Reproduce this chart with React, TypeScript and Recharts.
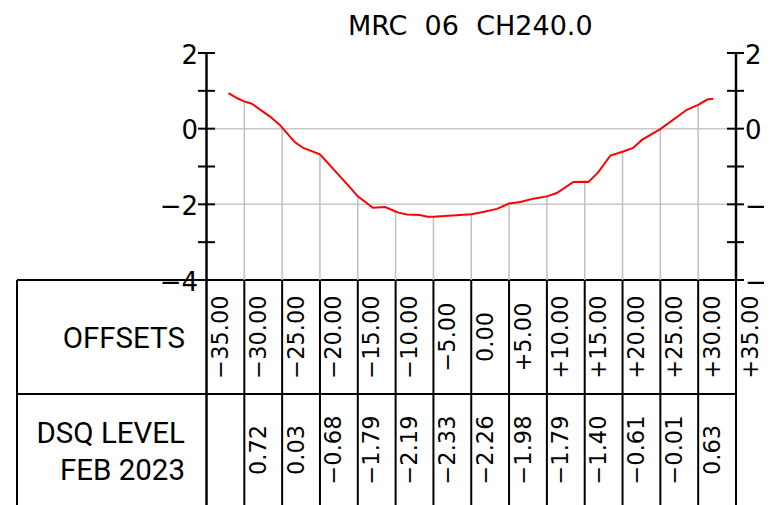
import React from 'react';
import { LineChart, Line, XAxis, YAxis, ReferenceLine, Customized } from 'recharts';

// Surveyed ground profile (offset in m, level in m)
const profileOffsets = [-32.1, -30.8, -30, -29.0, -26.6, -25.3, -25, -23.3, -22.2, -20, -16.0, -15, -13.0, -11.4, -10, -9.6, -8.5, -6.8, -5.8, -5, 0, 1.4, 3.4, 5, 6.5, 8.2, 10, 11.3, 13.5, 15, 15.5, 16.8, 18.4, 20, 21.4, 22.6, 25, 28.5, 30, 31.2, 32.0];
const profileLevels = [0.94, 0.79, 0.72, 0.66, 0.32, 0.10, 0.03, -0.36, -0.51, -0.68, -1.56, -1.79, -2.09, -2.07, -2.19, -2.22, -2.27, -2.28, -2.33, -2.33, -2.26, -2.21, -2.12, -1.98, -1.94, -1.85, -1.79, -1.70, -1.41, -1.40, -1.41, -1.15, -0.71, -0.61, -0.51, -0.29, -0.01, 0.50, 0.63, 0.77, 0.79];

// Table offsets and levels
const tableOffsets = [-35, -30, -25, -20, -15, -10, -5, 0, 5, 10, 15, 20, 25, 30, 35];
const offsetLabels = ['−35.00', '−30.00', '−25.00', '−20.00', '−15.00', '−10.00', '−5.00', '0.00', '+5.00', '+10.00', '+15.00', '+20.00', '+25.00', '+30.00', '+35.00'];
const dsqLevels: (number | null)[] = [null, 0.72, 0.03, -0.68, -1.79, -2.19, -2.33, -2.26, -1.98, -1.79, -1.40, -0.61, -0.01, 0.63, null];
const dsqLabels = ['', '0.72', '0.03', '−0.68', '−1.79', '−2.19', '−2.33', '−2.26', '−1.98', '−1.79', '−1.40', '−0.61', '−0.01', '0.63', ''];

const yTicks = [-4, -3, -2, -1, 0, 1, 2];
const yMajorLabels: Record<number, string> = { 2: '2', 0: '0', [-2]: '−2', [-4]: '−4' };

const title = 'MRC  06  CH240.0';
const rowLabel1 = 'OFFSETS';
const rowLabel2a = 'DSQ LEVEL';
const rowLabel2b = 'FEB 2023';

const profileData = profileOffsets.map((o, i) => ({ offset: o, level: profileLevels[i] }));

const W = 764;
const H = 497;
const PLOT_LEFT = 198.5;
const PLOT_RIGHT = 728;
const PLOT_TOP = 45;
const PLOT_BOTTOM = 272;
const TABLE_LEFT = 9;
const ROW_DIV = 386;

const CAD = 'DejaVu Sans';
const LABEL_FONT = 'Roboto';

const YTick = (props: any) => {
  const { x, y, payload, side } = props;
  const v = payload.value;
  const lbl = yMajorLabels[v];
  const left = side === 'left';
  return (
    <g>
      <line x1={left ? x - 8.5 : x - 9} x2={left ? x + 8.5 : x + 8} y1={y} y2={y} stroke="#000" strokeWidth={2} />
      {lbl !== undefined && (
        <text x={left ? x - 8.5 : x + 9} y={y + 10.5} textAnchor={left ? 'end' : 'start'} fontFamily={CAD} fontSize={26} fill="#000">
          {lbl}
        </text>
      )}
    </g>
  );
};

const XTick = (props: any) => {
  const { x, y, index } = props;
  const tx = x + 13.5;
  const c1 = y + 57;
  const c2 = y + 170;
  const last = index === tableOffsets.length - 1;
  return (
    <g>
      <line x1={x} x2={x} y1={y} y2={H + 10} stroke="#000" strokeWidth={index === 0 ? 2.5 : 2} />
      <text transform={`rotate(-90 ${tx} ${c1})`} x={tx} y={c1} textAnchor="middle" dominantBaseline="central" fontFamily={CAD} fontSize={22.5} fill="#000">
        {offsetLabels[index]}
      </text>
      {!last && dsqLabels[index] && (
        <text transform={`rotate(-90 ${tx} ${c2})`} x={tx} y={c2} textAnchor="middle" dominantBaseline="central" fontFamily={CAD} fontSize={22.5} fill="#000">
          {dsqLabels[index]}
        </text>
      )}
    </g>
  );
};

const TableFrame = () => (
  <g>
    <text x={(PLOT_LEFT + PLOT_RIGHT) / 2 - 1} y={27} textAnchor="middle" fontFamily={CAD} fontSize={27} fill="#000" style={{ whiteSpace: 'pre' }}>
      {title}
    </text>
    <line x1={TABLE_LEFT} x2={PLOT_RIGHT} y1={PLOT_BOTTOM} y2={PLOT_BOTTOM} stroke="#000" strokeWidth={2} />
    <line x1={TABLE_LEFT} x2={PLOT_RIGHT} y1={ROW_DIV} y2={ROW_DIV} stroke="#000" strokeWidth={2} />
    <line x1={TABLE_LEFT} x2={TABLE_LEFT} y1={PLOT_BOTTOM} y2={H + 10} stroke="#000" strokeWidth={2} />
    <text x={177} y={340} textAnchor="end" fontFamily={LABEL_FONT} fontSize={29.5} fill="#000">{rowLabel1}</text>
    <text x={177} y={435} textAnchor="end" fontFamily={LABEL_FONT} fontSize={29.5} fill="#000">{rowLabel2a}</text>
    <text x={177} y={472} textAnchor="end" fontFamily={LABEL_FONT} fontSize={29.5} fill="#000">{rowLabel2b}</text>
  </g>
);

export default function App() {
  return (
    <div style={{ width: W, height: H }}>
      <LineChart width={W} height={H} data={profileData} margin={{ top: PLOT_TOP, right: 0, left: 138.5, bottom: 0 }}>
        <XAxis
          dataKey="offset"
          type="number"
          domain={[-35, 35]}
          ticks={tableOffsets}
          interval={0}
          height={H - PLOT_BOTTOM}
          axisLine={false}
          tickLine={false}
          tickSize={0}
          tickMargin={0}
          tick={<XTick />}
          allowDataOverflow
        />
        <YAxis
          yAxisId="left"
          orientation="left"
          width={60}
          domain={[-4, 2]}
          ticks={yTicks}
          interval={0}
          axisLine={{ stroke: '#000', strokeWidth: 2.5 }}
          tickLine={false}
          tickSize={0}
          tickMargin={0}
          tick={<YTick side="left" />}
          allowDataOverflow
        />
        <YAxis
          yAxisId="right"
          orientation="right"
          width={36}
          domain={[-4, 2]}
          ticks={yTicks}
          interval={0}
          axisLine={{ stroke: '#000', strokeWidth: 2.5 }}
          tickLine={false}
          tickSize={0}
          tickMargin={0}
          tick={<YTick side="right" />}
          allowDataOverflow
        />
        <ReferenceLine yAxisId="left" y={0} stroke="#c8c8c8" strokeWidth={1.5} />
        <ReferenceLine yAxisId="left" y={-2} stroke="#c8c8c8" strokeWidth={1.5} />
        {tableOffsets.map((o, i) =>
          dsqLevels[i] === null ? null : (
            <ReferenceLine
              key={o}
              yAxisId="left"
              segment={[{ x: o, y: dsqLevels[i] as number }, { x: o, y: -4 }]}
              stroke="#c0c0c0"
              strokeWidth={1.5}
            />
          )
        )}
        <Line yAxisId="left" type="linear" dataKey="level" stroke="#ff0000" strokeWidth={2} dot={false} isAnimationActive={false} />
        <Customized component={TableFrame} />
      </LineChart>
    </div>
  );
}
